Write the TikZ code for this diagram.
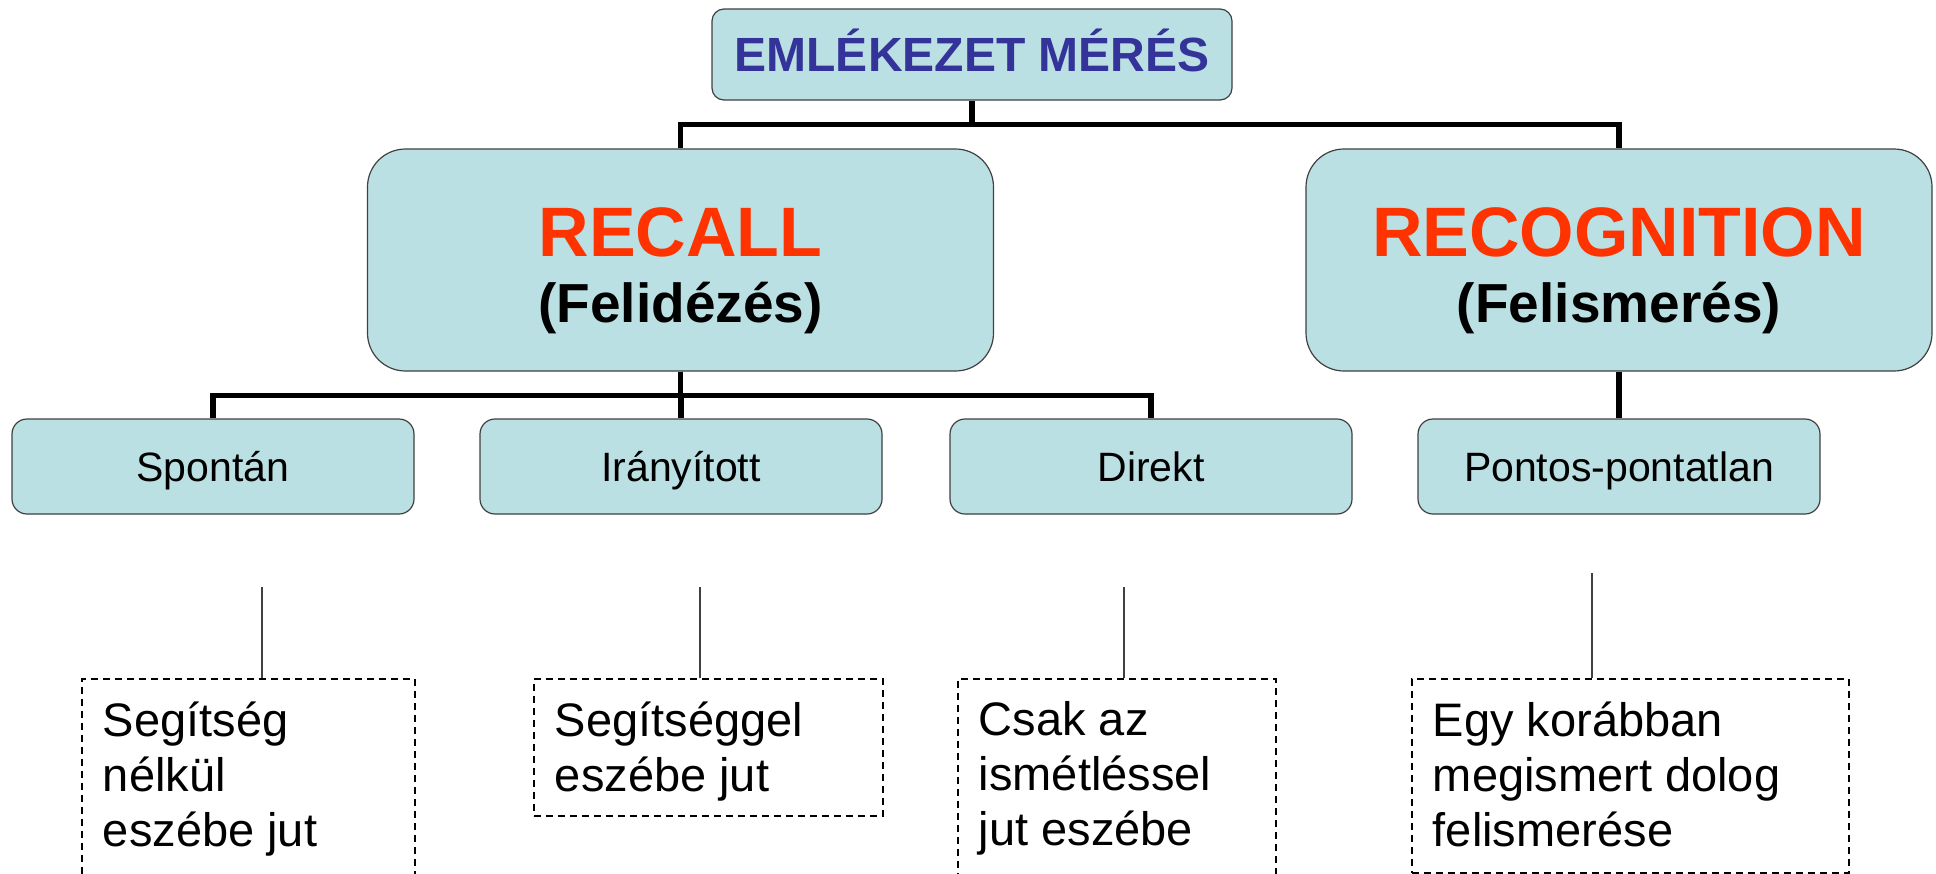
\documentclass[tikz,border=0pt]{standalone}
\usepackage{fontspec}
\setmainfont{Liberation Sans}

\definecolor{boxfill}{HTML}{BBE0E3}
\definecolor{titleblue}{HTML}{333399}
\definecolor{headred}{HTML}{FF3300}
\definecolor{boxline}{HTML}{404040}

\tikzset{
  box/.style={draw=boxline, line width=1.2pt, fill=boxfill, rounded corners=15pt, inner sep=0pt},
  head/.style={box, rounded corners=38pt, minimum width=626pt, minimum height=222pt,
    align=center, font=\bfseries\fontsize{55}{66}\selectfont},
  leaf/.style={box, minimum width=402pt, minimum height=95pt, text height=29pt, text depth=0pt,
    font=\fontsize{41}{49}\selectfont},
  note/.style={draw, dash pattern=on 7pt off 5pt, line width=1.8pt, anchor=north west,
    inner xsep=21pt, inner ysep=23pt, font=\fontsize{47}{55}\selectfont},
  link/.style={line width=5.5pt},
  tick/.style={draw=black!75, line width=1.3pt}
}

\begin{document}
\begin{tikzpicture}[x=1pt, y=-1pt]
        \useasboundingbox (0,0) rectangle (1936,873);
        \node[box, rounded corners=12pt, minimum width=520pt, minimum height=91pt, text height=34pt, text depth=0pt,
          font=\bfseries\fontsize{48}{58}\selectfont, text=titleblue] (mem) at (972,54.5) {EMLÉKEZET MÉRÉS};
        \node[head] (rec) at (680.5,260) {\textcolor{headred}{\fontsize{70}{70}\selectfont\rule{0pt}{70pt}RECALL}\\(Felidézés)};
        \node[head] (recog) at (1619,260) {\textcolor{headred}{\fontsize{70}{70}\selectfont\rule{0pt}{70pt}RECOGNITION}\\(Felismerés)};
        \node[leaf] (spon) at (213,466.5) {Spontán};
        \node[leaf] (irany) at (681,466.5) {Irányított};
        \node[leaf] (direkt) at (1151,466.5) {Direkt};
        \node[leaf] (pontos) at (1619,466.5) {Pontos-pontatlan};
        \node[note] (d1) at (81,678) {\parbox[t][180pt][t]{291pt}{\raggedright Segítség\\nélkül\\eszébe jut}};
        \node[note] (d2) at (533,678) {\parbox[t][91pt][t]{307pt}{\raggedright Segítséggel\\eszébe jut}};
        \node[note] (d3) at (957,678) {\parbox[t][180pt][t]{276pt}{\raggedright Csak az\\ismétléssel\\jut eszébe}};
        \node[note] (d4) at (1411,678) {\parbox[t][148pt][t]{395pt}{\raggedright Egy korábban\\megismert dolog\\felismerése}};
        \draw[link] (mem.south) -- ++(0,24) -| (rec.north);
        \draw[link] (mem.south) -- ++(0,24) -| (recog.north);
        \draw[link] (rec.south) -- ++(0,24) -| (spon.north);
        \draw[link] (rec.south) -- ++(0,24) -| (irany.north);
        \draw[link] (rec.south) -- ++(0,24) -| (direkt.north);
        \draw[link] (recog) -- (pontos);
        \coordinate (t1) at (262,587);
        \coordinate (t2) at (700,587);
        \coordinate (t3) at (1124,587);
        \coordinate (t4) at (1592,573);
        \draw[tick] (t1) -- (t1 |- d1.north);
        \draw[tick] (t2) -- (t2 |- d2.north);
        \draw[tick] (t3) -- (t3 |- d3.north);
        \draw[tick] (t4) -- (t4 |- d4.north);
      \end{tikzpicture}
\end{document}
